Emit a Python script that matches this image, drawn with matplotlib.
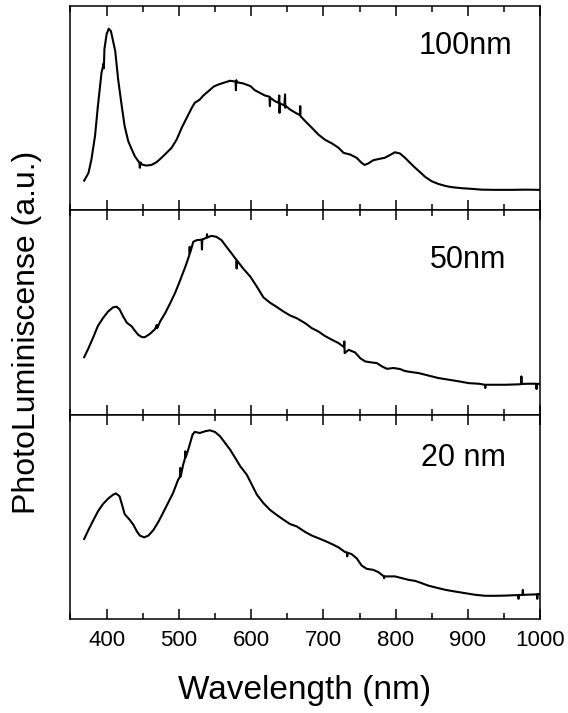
#!/usr/bin/env python3
"""
PL spectra of three film thicknesses, stacked panels
"""

import matplotlib
matplotlib.use('Agg')
import matplotlib.pyplot as plt
from matplotlib.ticker import MultipleLocator

plt.rcParams['font.family'] = ['Liberation Sans', 'DejaVu Sans']

# ---- data (intensity in a.u., 0-100 per panel) ----
wl_100 = [369, 375, 379, 384, 388, 393, 396, 396.3, 397, 400, 403, 406, 408, 412, 416,
          421, 425, 430, 435, 439, 444, 445.5, 446, 447, 449, 455, 462, 469, 476,
          483, 490, 497, 504, 511, 518, 522, 529, 534, 541, 548, 555, 562, 571,
          578.5, 579, 579.5, 580, 589, 599, 605, 612, 619, 625.5, 626, 626.5, 633,
          638, 639, 639.3, 640, 646, 647, 647.3, 648, 654, 663, 667.5, 668, 668.3,
          675, 684, 693, 702, 712, 721, 728, 737, 746, 753, 757, 762, 769, 778,
          785, 792, 799, 806, 813, 820, 827, 834, 841, 850, 859, 869, 878, 892,
          905, 919, 938, 961, 979, 1000]
pl_100 = [14.5, 18.3, 24.8, 36.3, 51.0, 67.3, 72.0, 69.5, 78.8, 86.1, 88.9, 87.7, 84.5,
          77.9, 64.1, 51.0, 41.2, 33.8, 29.7, 26.5, 24.0, 23.2, 20.8, 23.4, 22.4,
          21.9, 22.2, 23.5, 25.7, 28.1, 30.6, 34.6, 40.4, 45.3, 50.2, 52.6, 54.2,
          56.2, 58.3, 60.5, 61.6, 62.4, 63.4, 63.0, 58.8, 63.7, 62.7, 62.1, 60.8,
          58.8, 57.5, 56.2, 55.6, 51.0, 55.1, 53.4, 52.6, 56.2, 47.7, 52.3, 51.3,
          56.7, 50.2, 51.0, 49.3, 47.4, 46.6, 51.0, 46.1, 43.6, 40.4, 37.1, 34.6,
          32.7, 30.6, 28.1, 27.3, 25.7, 23.2, 22.2, 22.9, 24.5, 25.2, 25.7, 27.0,
          28.4, 27.8, 25.7, 23.2, 20.8, 18.6, 16.3, 14.2, 12.9, 11.9, 11.3, 10.8,
          10.5, 10.1, 10.0, 10.0, 10.1, 10.0]

wl_50 = [369, 375, 382, 388, 395, 402, 409, 414, 418, 423, 428, 435, 439, 444, 449,
         453, 460, 467, 469.5, 470, 470.5, 474, 481, 488, 495, 502, 509, 514.5, 515,
         515.5, 520, 525, 531.5, 532, 532.5, 538.5, 539, 539.5, 545, 552, 559, 566,
         573, 579.5, 580, 580.5, 589, 599, 608, 617, 626, 635, 645, 654, 663, 675,
         684, 693, 702, 712, 721, 728.5, 729, 729.5, 735, 744, 751, 758, 767, 774,
         781, 788, 797, 806, 813, 822, 832, 841, 850, 859, 873, 887, 901, 915,
         923.5, 924, 924.5, 938, 952, 970, 973.5, 974, 974.5, 984, 994.5, 995,
         995.5, 1000]
pl_50 = [28.1, 32.5, 38.2, 43.4, 47.2, 50.4, 52.5, 52.8, 51.5, 48.0, 45.0, 43.1, 41.1,
         39.0, 37.9, 37.9, 39.5, 41.8, 43.9, 42.3, 42.6, 45.5, 49.6, 54.5, 59.7,
         65.9, 72.4, 78.0, 82.1, 79.0, 84.6, 85.4, 85.6, 80.8, 85.7, 86.6, 88.3,
         86.7, 87.5, 87.0, 85.4, 82.1, 78.9, 75.8, 71.5, 75.4, 71.5, 67.5, 62.6,
         57.4, 54.8, 52.8, 50.4, 48.5, 47.2, 44.7, 42.3, 40.7, 38.5, 36.6, 35.0,
         33.0, 35.8, 30.1, 31.7, 30.4, 27.6, 26.0, 25.5, 25.2, 23.6, 22.4, 22.8,
         22.3, 21.3, 20.8, 20.3, 19.5, 18.7, 17.9, 17.1, 16.3, 15.4, 15.1, 14.6,
         13.0, 14.6, 14.6, 14.6, 14.8, 14.9, 18.7, 15.0, 15.1, 15.1, 12.5, 15.0,
         15.1]

wl_20 = [369, 375, 382, 388, 395, 402, 409, 413, 418, 422, 425, 432, 437, 442, 446,
         452, 458, 465, 472, 478, 485, 492, 499, 501.5, 502, 502.5, 506, 508.5, 509,
         509.5, 513, 519, 522, 529, 536, 543, 550, 557, 564, 571, 578, 585, 594,
         601, 608, 617, 626, 635, 645, 654, 663, 675, 684, 693, 702, 712, 721,
         730, 732.5, 733, 733.5, 739, 746, 753, 760, 769, 776, 783, 783.5, 784,
         784.5, 790, 799, 809, 818, 827, 836, 845, 855, 869, 882, 896, 910, 924,
         938, 952, 965, 969.5, 970, 970.5, 975.5, 976, 976.5, 979, 995.5, 996,
         996.5, 1000]
pl_20 = [39.1, 43.6, 48.5, 52.6, 56.2, 58.8, 60.8, 61.4, 60.0, 55.1, 51.3, 48.5, 46.1,
         42.8, 40.8, 39.9, 40.8, 43.6, 47.7, 51.8, 56.7, 61.6, 68.1, 69.5, 73.9,
         69.6, 75.5, 78.5, 82.0, 79.0, 82.8, 90.2, 91.5, 91.0, 91.8, 92.3, 91.5,
         89.4, 86.1, 82.8, 78.8, 74.7, 70.6, 65.7, 60.8, 56.7, 53.4, 51.0, 48.5,
         46.4, 45.3, 42.5, 40.8, 39.5, 38.2, 36.6, 35.0, 32.7, 32.5, 30.6, 32.4,
         31.7, 29.7, 26.1, 24.5, 24.0, 22.9, 21.0, 20.8, 19.9, 20.8, 20.8, 20.8,
         19.9, 19.1, 18.6, 17.5, 16.3, 15.4, 14.2, 13.4, 12.6, 11.8, 11.3, 11.3,
         11.4, 11.6, 11.6, 9.8, 11.7, 11.7, 14.2, 11.8, 11.8, 12.0, 9.8, 12.1, 12.1]

labels = ['100nm', '50nm', '20 nm']
label_y = [0.806, 0.759, 0.787]
label_x = [0.940, 0.928, 0.928]

series = [(wl_100, pl_100), (wl_50, pl_50), (wl_20, pl_20)]

fig, axes = plt.subplots(3, 1, sharex=True, figsize=(5.68, 7.13), dpi=100)
fig.subplots_adjust(left=0.124, right=0.951, top=0.9916, bottom=0.132, hspace=0)

for ax, (wl, pl), lab, lx, ly in zip(axes, series, labels, label_x, label_y):
    ax.plot(wl, pl, color='black', linewidth=1.5)
    ax.set_xlim(350, 1000)
    ax.set_ylim(0, 100)
    ax.set_yticks([])
    ax.xaxis.set_major_locator(MultipleLocator(100))
    ax.xaxis.set_minor_locator(MultipleLocator(50))
    ax.tick_params(axis='x', which='both', direction='in', top=True, bottom=True,
                   width=1.1, labelsize=16, pad=8)
    ax.tick_params(axis='x', which='major', length=7)
    ax.tick_params(axis='x', which='minor', length=4)
    for sp in ax.spines.values():
        sp.set_linewidth(1.1)
    ax.text(lx, ly, lab, transform=ax.transAxes, fontsize=22,
            ha='right', va='center')

fig.text(305 / 568, 1 - 690 / 713, 'Wavelength (nm)', fontsize=24,
         ha='center', va='center')
fig.text(27 / 568, 1 - 332 / 713, 'PhotoLuminiscense (a.u.)', fontsize=23,
         ha='center', va='center', rotation=90)

plt.savefig('out.png', dpi=100, facecolor='white')
plt.close()
